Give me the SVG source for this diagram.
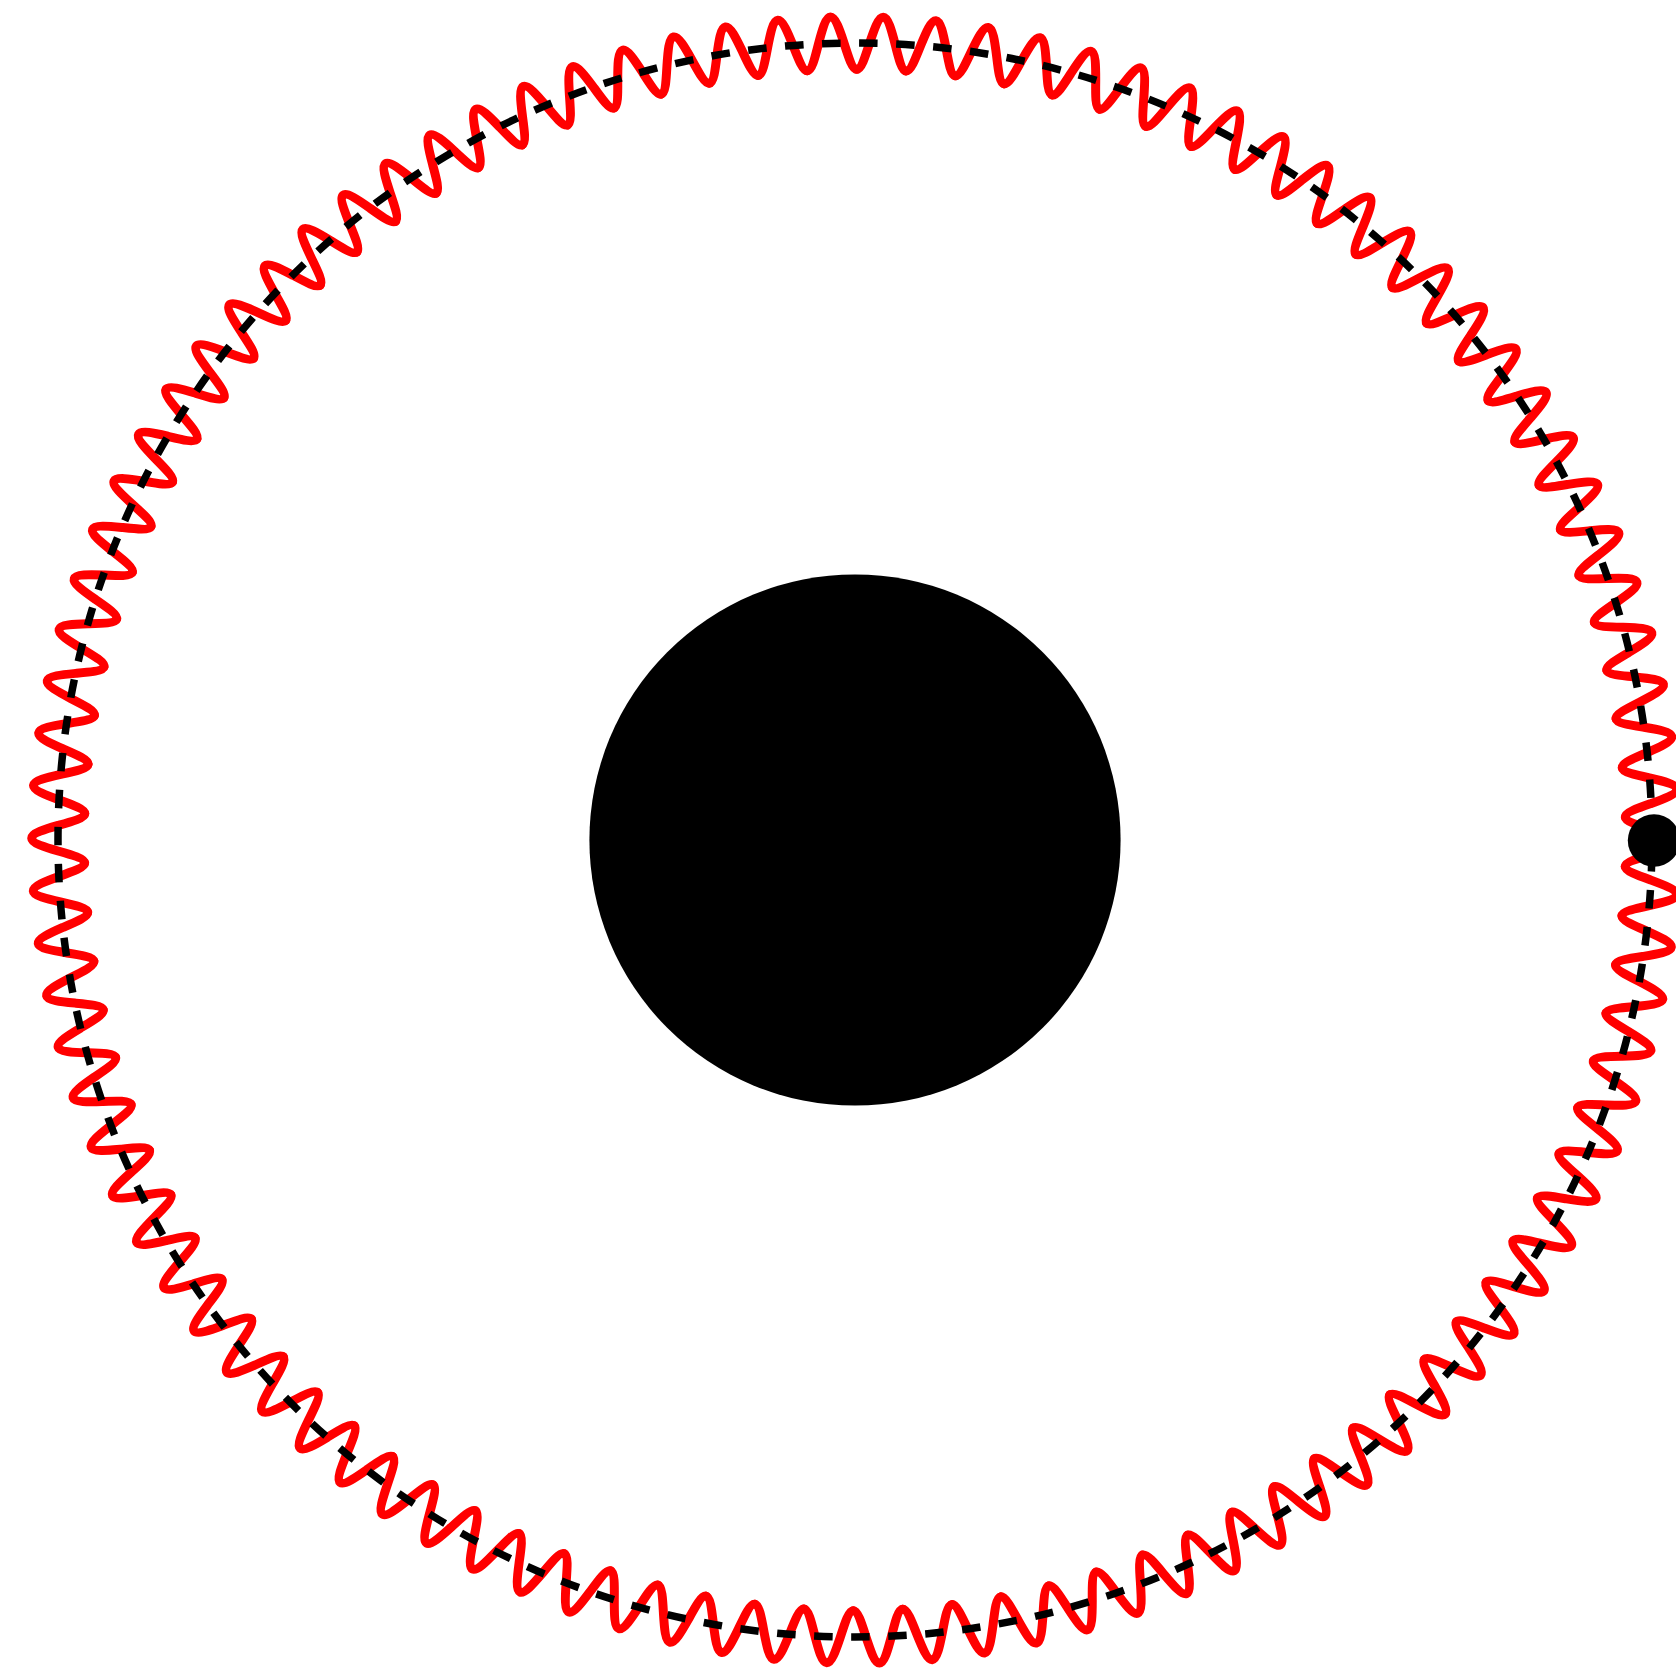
<svg xmlns="http://www.w3.org/2000/svg" xmlns:xlink="http://www.w3.org/1999/xlink" width="1676" height="1671" viewBox="0 0 1676 1671">
<style>
.wave{fill:none;stroke:#ff0000;stroke-width:9;stroke-linecap:round;stroke-linejoin:round}
.orbit{fill:none;stroke:#000;stroke-width:7.5;stroke-dasharray:18.547 18.547;stroke-dashoffset:24.09}
.mass{fill:#000}
</style>
<defs>
<path id="seg" class="wave" d="M 770.304 -24.702 C 770.434 -20.233 783.350 -16.653 796.898 -12.775 C 810.426 -8.754 823.286 -4.776 823.3 0 C 823.286 4.776 810.426 8.754 796.898 12.775 C 783.350 16.653 770.434 20.233 770.304 24.702"/>
<g id="seg7">
<use xlink:href="#seg" href="#seg"/>
<use xlink:href="#seg" href="#seg" transform="rotate(3.6734694)"/>
<use xlink:href="#seg" href="#seg" transform="rotate(7.3469388)"/>
<use xlink:href="#seg" href="#seg" transform="rotate(11.0204082)"/>
<use xlink:href="#seg" href="#seg" transform="rotate(14.6938776)"/>
<use xlink:href="#seg" href="#seg" transform="rotate(18.3673469)"/>
<use xlink:href="#seg" href="#seg" transform="rotate(22.0408163)"/>
</g>
</defs>
<rect width="1676" height="1671" fill="#fff"/>
<g id="wave" transform="translate(855 840) rotate(0.13)">
<use href="#seg7"/>
<use href="#seg7" transform="rotate(25.7142857)"/>
<use href="#seg7" transform="rotate(51.4285714)"/>
<use href="#seg7" transform="rotate(77.1428571)"/>
<use href="#seg7" transform="rotate(102.8571429)"/>
<use href="#seg7" transform="rotate(128.5714286)"/>
<use href="#seg7" transform="rotate(154.2857143)"/>
<use href="#seg7" transform="rotate(180)"/>
<use href="#seg7" transform="rotate(205.7142857)"/>
<use href="#seg7" transform="rotate(231.4285714)"/>
<use href="#seg7" transform="rotate(257.1428571)"/>
<use href="#seg7" transform="rotate(282.8571429)"/>
<use href="#seg7" transform="rotate(308.5714286)"/>
<use href="#seg7" transform="rotate(334.2857143)"/>
</g>
<g id="orbit"><circle class="orbit" cx="855" cy="840" r="797"/></g>
<g id="central-mass"><circle class="mass" cx="855" cy="840" r="265.6"/></g>
<g id="satellite"><circle class="mass" cx="1654" cy="840.5" r="26.2"/></g>
</svg>
